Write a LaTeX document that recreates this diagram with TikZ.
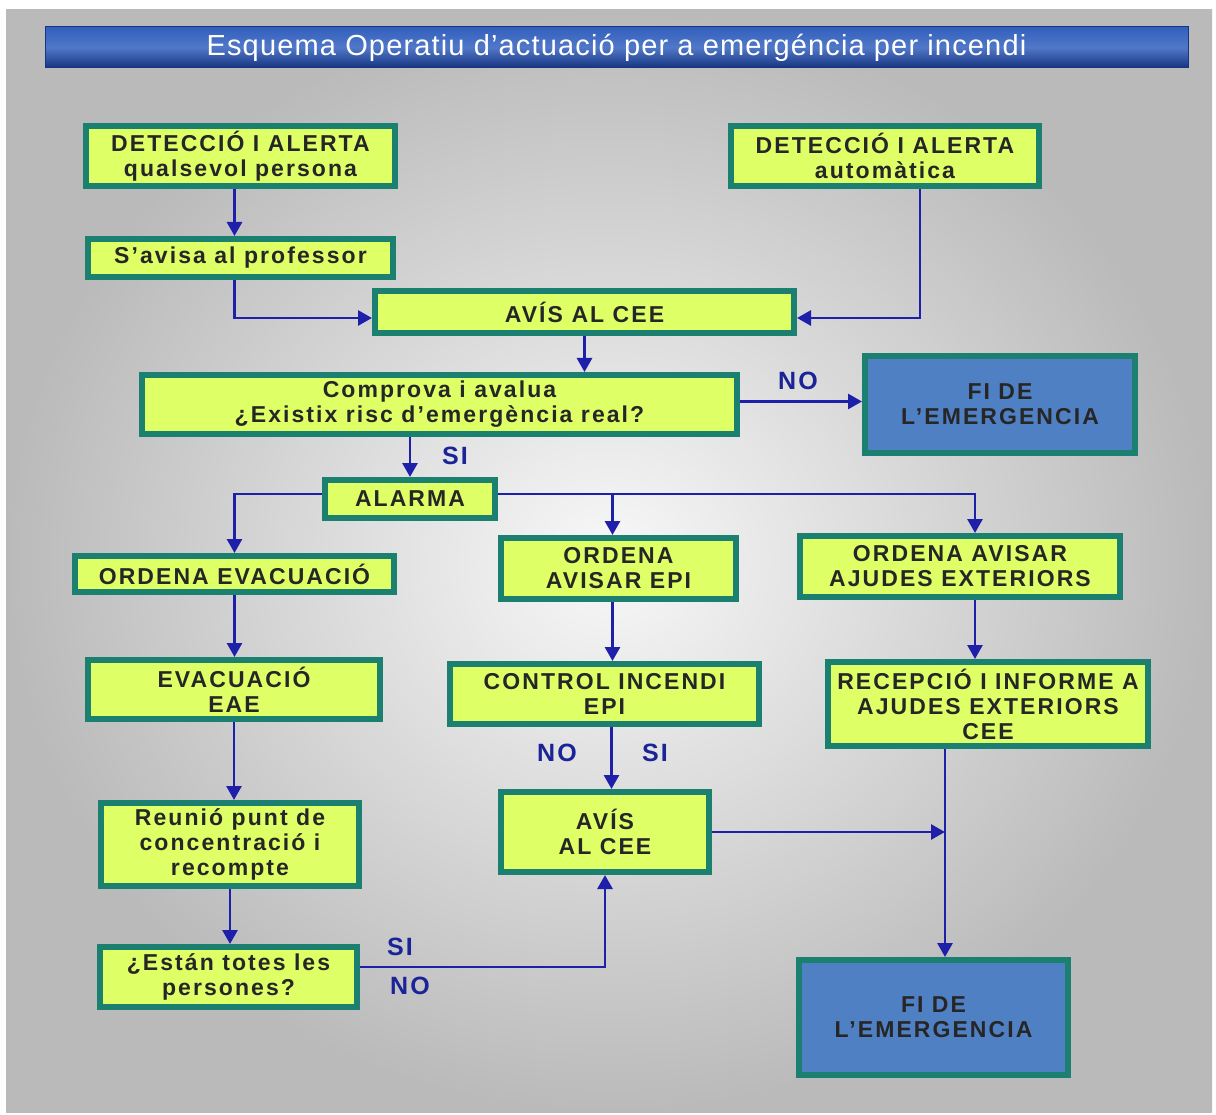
\documentclass[tikz,border=0pt]{standalone}
\usepackage{fontspec}
\setmainfont{Liberation Sans}
\newfontfamily\boxfont{Liberation Sans}[LetterSpace=9]
\newfontfamily\titlefont{Liberation Sans}[LetterSpace=4]
\usetikzlibrary{arrows.meta,calc}
\definecolor{boxfill}{RGB}{222,255,102}
\definecolor{boxedge}{RGB}{28,128,112}
\definecolor{finfill}{RGB}{80,128,196}
\definecolor{linecol}{RGB}{30,32,170}
\definecolor{lblcol}{RGB}{26,36,150}
\definecolor{bgout}{RGB}{186,186,186}
\definecolor{bgin}{RGB}{248,248,248}
\definecolor{barA}{RGB}{22,52,128}
\definecolor{barB}{RGB}{50,96,190}
\tikzset{
  box/.style={draw=boxedge, line width=6pt, fill=boxfill, inner sep=0pt, align=center,
    font=\boxfont\bfseries\fontsize{23}{25}\selectfont, text=black!85},
  finbox/.style={fill=finfill},
  arr/.style={draw=linecol, line width=2.8pt, -{Triangle[length=14pt,width=15pt]}},
  lbl/.style={text=lblcol, font=\boxfont\bfseries\fontsize{25}{26}\selectfont, inner sep=0pt},
}
\newcommand\mkbox[7][]{%
  \node[box,#1,minimum width={#4-#2-6},minimum height={#5-#3-6}] (#6) at ({(#2+#4)/2},{(#3+#5)/2}) {#7};}
\begin{document}
\begin{tikzpicture}[x=1pt,y=-1pt]
\useasboundingbox (0,0) rectangle (1216,1115);
\fill[white] (0,0) rectangle (1216,1115);
\shade[inner color=bgin, outer color=bgout] (6,10) rectangle (1212,1112);
% title bar
\node[draw=barA, line width=1pt, top color=barB, bottom color=barA, middle color=barB!85!white,
  minimum width=1143, minimum height=41, inner sep=0pt, text=white,
  font=\titlefont\fontsize{29}{30}\selectfont] (title) at (616.5,47.5)
  {Esquema Operatiu d’actuació per a emergéncia per incendi};
% boxes
\mkbox{83}{123}{398}{189}{det1}{DETECCIÓ I ALERTA\\qualsevol persona}
\mkbox{728}{123}{1042}{189}{det2}{DETECCIÓ I ALERTA\\automàtica}
\mkbox{85}{236}{396}{280}{savisa}{S’avisa al professor}
\mkbox{372}{288}{797}{336}{avis1}{AVÍS AL CEE}
\mkbox{139}{372}{740}{437}{comprova}{Comprova i avalua\\¿Existix risc d’emergència real?}
\mkbox[finbox]{862}{353}{1138}{456}{fi1}{FI DE\\L’EMERGENCIA}
\mkbox{322}{477}{498}{521}{alarma}{ALARMA}
\mkbox{72}{553}{397}{595}{ordevac}{ORDENA EVACUACIÓ}
\mkbox{498}{535}{739}{602}{ordepi}{ORDENA\\AVISAR EPI}
\mkbox{797}{533}{1123}{600}{ordaj}{ORDENA AVISAR\\AJUDES EXTERIORS}
\mkbox{85}{657}{383}{722}{evac}{EVACUACIÓ\\EAE}
\mkbox{447}{661}{762}{727}{control}{CONTROL INCENDI\\EPI}
\mkbox{825}{659}{1151}{749}{recep}{RECEPCIÓ I INFORME A\\AJUDES EXTERIORS\\CEE}
\mkbox{98}{800}{362}{889}{reunio}{Reunió punt de\\concentració i\\recompte}
\mkbox{498}{789}{712}{875}{avis2}{AVÍS\\AL CEE}
\mkbox{97}{944}{360}{1010}{estan}{¿Están totes les\\persones?}
\mkbox[finbox]{796}{957}{1071}{1078}{fi2}{FI DE\\L’EMERGENCIA}
% labels
\node[lbl] (lno1) at (798,381) {NO};
\node[lbl] (lsi1) at (455,456) {SI};
\node[lbl] (lno2) at (557,753) {NO};
\node[lbl] (lsi2) at (655,753) {SI};
\node[lbl] (lsi3) at (400,947) {SI};
\node[lbl] (lno3) at (410,986) {NO};
% helper coordinates
\coordinate (d2b) at ($(det2.south)+(35,0)$);
\coordinate (ajn) at ($(ordaj.north)+(15,0)$);
\coordinate (ajs) at ($(ordaj.south)+(15,0)$);
\coordinate (epn) at ($(ordepi.north)+(-6,0)$);
\coordinate (eps) at ($(ordepi.south)+(-6,0)$);
\coordinate (cts) at ($(control.south)+(7,0)$);
\coordinate (rx) at ($(recep.south)+(-43,0)$);
\coordinate (ese) at ($(estan.east)+(0,-10)$);
\coordinate (alw) at ($(alarma.west)+(0,-5)$);
\coordinate (ale) at ($(alarma.east)+(0,-5)$);
\coordinate (cpe) at ($(comprova.east)+(0,-3)$);
\coordinate (sav) at ($(savisa.south)+(-6,0)$);
\coordinate (dt1) at ($(det1.south)+(-6,0)$);
\coordinate (a1w) at ($(avis1.west)+(0,6)$);
\coordinate (a1e) at ($(avis1.east)+(0,6)$);
% connectors
\draw[arr] (dt1) -- (dt1 |- savisa.north);
\draw[arr] (sav) |- (a1w);
\draw[arr] (d2b) |- (a1e);
\draw[arr] (avis1.south) -- (avis1.south |- comprova.north);
\draw[arr] (cpe) -- (cpe -| fi1.west);
\draw[arr] (comprova.south -| alarma.north) -- (alarma.north);
\draw[arr] (alw) -| (ordevac.north);
\draw[arr] (ale) -| (ajn);
\draw[arr] (ale -| epn) -- (epn);
\draw[arr] (ordevac.south) -- (ordevac.south |- evac.north);
\draw[arr] (eps) -- (eps |- control.north);
\draw[arr] (ajs) -- (ajs |- recep.north);
\draw[arr] (evac.south) -- (evac.south |- reunio.north);
\draw[arr] (cts) -- (cts |- avis2.north);
\draw[arr] (reunio.south) -- (reunio.south |- estan.north);
\draw[arr] (ese) -| (avis2.south);
\draw[arr] (avis2.east) -- (avis2.east -| rx);
\draw[arr] (rx) -- (rx |- fi2.north);
\end{tikzpicture}
\end{document}
